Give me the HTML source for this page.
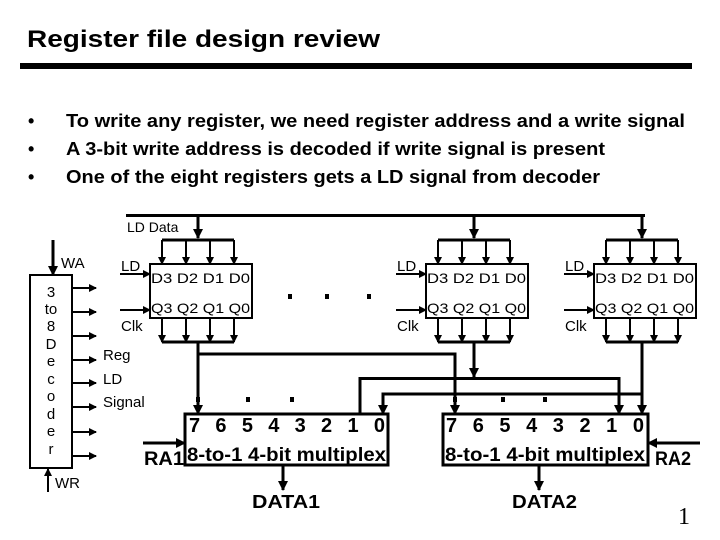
<!DOCTYPE html>
<html><head><meta charset="utf-8"><style>
html,body{margin:0;padding:0;background:#fff}
svg{display:block}
text{font-family:"Liberation Sans",Arial,sans-serif;fill:#000}
</style></head><body>
<svg width="720" height="540" viewBox="0 0 720 540" xmlns="http://www.w3.org/2000/svg">
<defs>
<marker id="a" markerWidth="8" markerHeight="8" refX="7" refY="4" orient="auto" markerUnits="userSpaceOnUse"><path d="M0,0 L8,4 L0,8 z" fill="#000"/></marker>
<marker id="b" markerWidth="10" markerHeight="10" refX="9" refY="5" orient="auto" markerUnits="userSpaceOnUse"><path d="M0,0 L10,5 L0,10 z" fill="#000"/></marker>
</defs>
<text x="27" y="47" font-size="24" font-weight="bold" textLength="353" lengthAdjust="spacingAndGlyphs">Register file design review</text>
<rect x="20" y="63" width="672" height="6" fill="#000"/>
<g font-size="18" font-weight="bold">
<text x="28" y="127">•</text><text x="66" y="127" textLength="619" lengthAdjust="spacingAndGlyphs">To write any register, we need register address and a write signal</text>
<text x="28" y="155">•</text><text x="66" y="155" textLength="539" lengthAdjust="spacingAndGlyphs">A 3-bit write address is decoded if write signal is present</text>
<text x="28" y="183">•</text><text x="66" y="183" textLength="534" lengthAdjust="spacingAndGlyphs">One of the eight registers gets a LD signal from decoder</text>
</g>
<g stroke="#000" fill="none">
<line x1="126" y1="215.5" x2="645" y2="215.5" stroke-width="3"/>
<line x1="198" y1="215" x2="198" y2="238" stroke-width="3" marker-end="url(#b)"/>
<line x1="474" y1="215" x2="474" y2="238" stroke-width="3" marker-end="url(#b)"/>
<line x1="642" y1="215" x2="642" y2="238" stroke-width="3" marker-end="url(#b)"/>
</g>
<text x="127" y="232" font-size="14">LD Data</text>

<g id="r1">
<g stroke="#000" fill="none">
<line x1="162" y1="240" x2="234" y2="240" stroke-width="3"/>
<line x1="162" y1="240" x2="162" y2="264" stroke-width="2" marker-end="url(#a)"/>
<line x1="186" y1="240" x2="186" y2="264" stroke-width="2" marker-end="url(#a)"/>
<line x1="210" y1="240" x2="210" y2="264" stroke-width="2" marker-end="url(#a)"/>
<line x1="234" y1="240" x2="234" y2="264" stroke-width="2" marker-end="url(#a)"/>
<rect x="150" y="264" width="102" height="54" stroke-width="2"/>
<line x1="162" y1="318" x2="162" y2="342" stroke-width="2" marker-end="url(#a)"/>
<line x1="186" y1="318" x2="186" y2="342" stroke-width="2" marker-end="url(#a)"/>
<line x1="210" y1="318" x2="210" y2="342" stroke-width="2" marker-end="url(#a)"/>
<line x1="234" y1="318" x2="234" y2="342" stroke-width="2" marker-end="url(#a)"/>
<line x1="162" y1="342" x2="234" y2="342" stroke-width="3"/>
<line x1="120" y1="274" x2="150" y2="274" stroke-width="2" marker-end="url(#a)"/>
<line x1="120" y1="310" x2="150" y2="310" stroke-width="2" marker-end="url(#a)"/>
</g>
<text x="121" y="271" font-size="15">LD</text>
<text x="121" y="331" font-size="15">Clk</text>
<text x="151" y="283" font-size="14" textLength="99" lengthAdjust="spacingAndGlyphs">D3 D2 D1 D0</text>
<text x="151" y="313" font-size="14" textLength="99" lengthAdjust="spacingAndGlyphs">Q3 Q2 Q1 Q0</text>
</g>
<use href="#r1" transform="translate(276,0)"/>
<use href="#r1" transform="translate(444,0)"/>

<g fill="#000">
<rect x="288" y="294" width="4" height="5"/><rect x="325" y="294" width="4" height="5"/><rect x="367" y="294" width="4" height="5"/>
<rect x="246" y="397" width="4" height="5"/><rect x="290" y="397" width="4" height="5"/>
<rect x="501" y="397" width="4" height="5"/><rect x="543" y="397" width="4" height="5"/>
<rect x="196" y="397" width="4" height="5"/><rect x="453" y="397" width="4" height="5"/>
</g>

<g stroke="#000" fill="none" stroke-width="3">
<line x1="198" y1="342" x2="198" y2="414" marker-end="url(#b)"/>
<polyline points="198,354 455,354 455,414" marker-end="url(#b)"/>
<line x1="474" y1="342" x2="474" y2="377" marker-end="url(#b)"/>
<polyline points="360,414 360,378.5 619,378.5 619,414" marker-end="url(#b)"/>
<line x1="642" y1="342" x2="642" y2="414" marker-end="url(#b)"/>
<polyline points="642,394 383,394 383,414" marker-end="url(#b)"/>
<rect x="185" y="414" width="203" height="51"/>
<rect x="443" y="414" width="205" height="51"/>
<line x1="143" y1="443" x2="185" y2="443" marker-end="url(#b)"/>
<line x1="700" y1="443" x2="648" y2="443" marker-end="url(#b)"/>
<line x1="283" y1="465" x2="283" y2="490" marker-end="url(#b)"/>
<line x1="539" y1="465" x2="539" y2="490" marker-end="url(#b)"/>
</g>
<g font-size="20" font-weight="bold">
<text x="189" y="432" textLength="196" lengthAdjust="spacing">7 6 5 4 3 2 1 0</text>
<text x="446" y="432" textLength="198" lengthAdjust="spacing">7 6 5 4 3 2 1 0</text>
<text x="187" y="461" font-size="19" textLength="199" lengthAdjust="spacingAndGlyphs">8-to-1 4-bit multiplex</text>
<text x="445" y="461" font-size="19" textLength="200" lengthAdjust="spacingAndGlyphs">8-to-1 4-bit multiplex</text>
<text x="144" y="465" font-size="19" textLength="40" lengthAdjust="spacingAndGlyphs">RA1</text>
<text x="655" y="465" font-size="19" textLength="36" lengthAdjust="spacingAndGlyphs">RA2</text>
<text x="252" y="508" font-size="18" textLength="68" lengthAdjust="spacingAndGlyphs">DATA1</text>
<text x="512" y="508" font-size="18" textLength="65" lengthAdjust="spacingAndGlyphs">DATA2</text>
</g>

<g stroke="#000" fill="none" stroke-width="2">
<rect x="30" y="275" width="42" height="193"/>
<line x1="53" y1="240" x2="53" y2="275" stroke-width="3" marker-end="url(#b)"/>
<line x1="48" y1="492" x2="48" y2="469" stroke-width="2" marker-end="url(#a)"/>
<line x1="72" y1="288" x2="96" y2="288" marker-end="url(#a)"/>
<line x1="72" y1="312" x2="96" y2="312" marker-end="url(#a)"/>
<line x1="72" y1="336" x2="96" y2="336" marker-end="url(#a)"/>
<line x1="72" y1="360" x2="96" y2="360" marker-end="url(#a)"/>
<line x1="72" y1="383" x2="96" y2="383" marker-end="url(#a)"/>
<line x1="72" y1="407" x2="96" y2="407" marker-end="url(#a)"/>
<line x1="72" y1="432" x2="96" y2="432" marker-end="url(#a)"/>
<line x1="72" y1="456" x2="96" y2="456" marker-end="url(#a)"/>
</g>
<text x="61" y="268" font-size="15">WA</text>
<text x="55" y="488" font-size="15">WR</text>
<g font-size="15" text-anchor="middle">
<text x="51" y="297">3</text><text x="51" y="314">to</text><text x="51" y="331">8</text><text x="51" y="349">D</text><text x="51" y="366">e</text><text x="51" y="384">c</text><text x="51" y="401">o</text><text x="51" y="419">d</text><text x="51" y="436">e</text><text x="51" y="454">r</text>
</g>
<text x="103" y="360" font-size="15">Reg</text>
<text x="103" y="384" font-size="15">LD</text>
<text x="103" y="407" font-size="15">Signal</text>
<text x="678" y="524" font-size="24" style="font-family:'Liberation Serif',serif">1</text>
</svg>
</body></html>
